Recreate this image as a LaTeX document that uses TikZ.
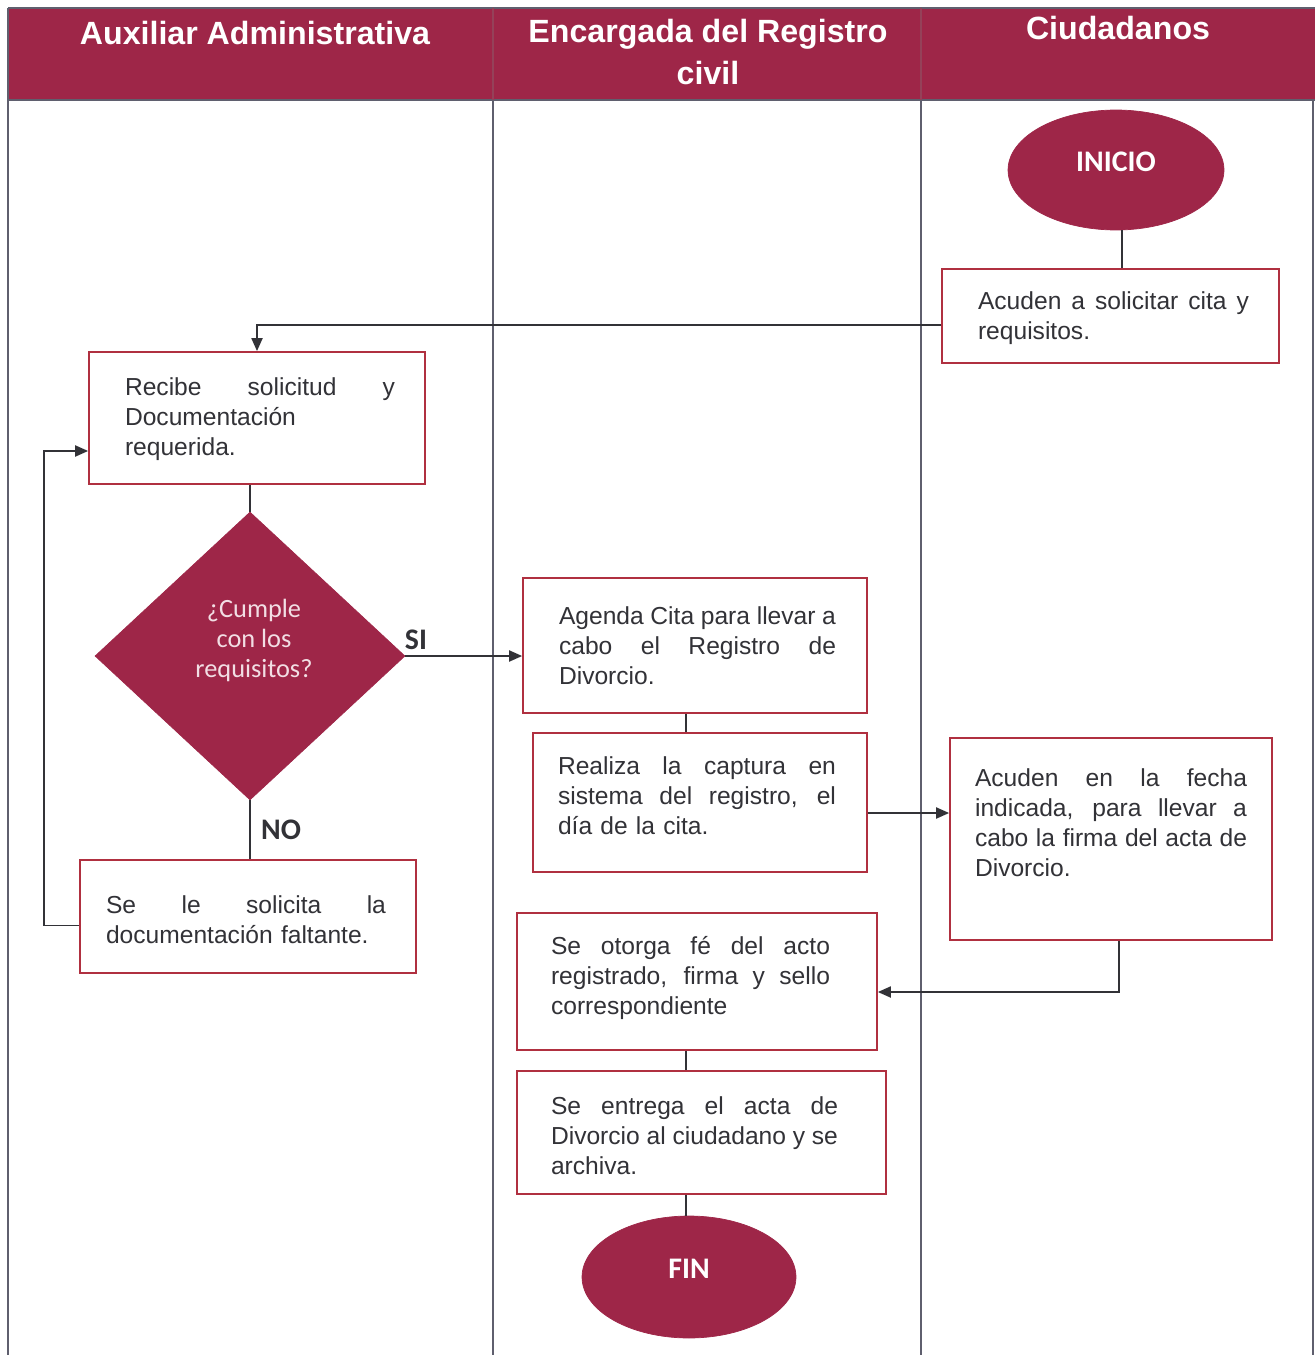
\documentclass[tikz,border=0pt]{standalone}
\usepackage{fontspec}
\setmainfont{Liberation Sans}
\newfontfamily\calibri{Carlito}
\usetikzlibrary{shapes.geometric,arrows.meta}
\definecolor{wine}{RGB}{158,38,72}
\definecolor{boxred}{RGB}{176,48,64}
\definecolor{ink}{RGB}{50,50,55}
\definecolor{lanegray}{RGB}{95,95,110}
\definecolor{qtext}{RGB}{242,222,228}
% a line stretched to the full text width: every interword space grows equally
\newcommand{\jl}[1]{\leavevmode\hbox to \hsize{\spaceskip=0.278em plus 1fil minus 0.05em\relax #1}}
\begin{document}
\begin{tikzpicture}[x=0.02cm,y=-0.02cm,
  procbox/.style={draw=boxred,line width=1pt,fill=white,rectangle,inner sep=0pt},
  txt/.style={text=ink,font=\fontsize{14}{17.07}\selectfont,align=left,inner sep=0pt,anchor=center},
  term/.style={ellipse,fill=wine,draw=wine,text=white,font=\calibri\bfseries\fontsize{17}{20}\selectfont,inner sep=0pt,text depth=0.32cm},
  decision/.style={diamond,fill=wine,draw=wine,inner sep=0pt},
  qtxt/.style={text=qtext,font=\calibri\fontsize{15}{17.07}\selectfont,align=center,inner sep=0pt},
  conn/.style={draw=ink,line width=1.1pt},
  arrow/.style={conn,-{Triangle[length=0.26cm,width=0.22cm]}},
  lanehead/.style={text=white,font=\bfseries\fontsize{18.3}{24.4}\selectfont,align=center,inner sep=0pt},
  lbl/.style={text=ink,font=\calibri\bfseries\fontsize{17}{20}\selectfont,inner sep=0pt},
  laneline/.style={draw=lanegray,line width=0.8pt}]
\useasboundingbox (0,0) rectangle (1315,1355);

% header band
\fill[wine] (8,8) rectangle (1315,100);
\draw[laneline] (8,8) -- (1315,8);
\draw[laneline] (8,100) -- (1315,100);
\draw[draw=wine!70!gray,line width=0.8pt] (493,8) -- (493,100) (921,8) -- (921,100);
\node[lanehead] (h1) at (255,33) {Auxiliar Administrativa};
\node[lanehead] (h2) at (708,52) {Encargada del Registro\\civil};
\node[lanehead] (h3) at (1118,28) {Ciudadanos};

% swimlane separators
\draw[laneline] (8,8) -- (8,1355);
\draw[laneline] (493,100) -- (493,1355);
\draw[laneline] (921,100) -- (921,1355);
\draw[laneline] (1313,100) -- (1313,1355);

% terminals and decision
\node[term,minimum width=4.32cm,minimum height=2.4cm] (inicio) at (1116,170) {INICIO};
\node[term,minimum width=4.28cm,minimum height=2.44cm] (fin) at (689,1277) {FIN};
\node[decision,minimum width=6.2cm,minimum height=5.76cm,shape aspect=1.076] (dia) at (250,656) {};
\node[qtxt] (diaq) at (254,640) {¿Cumple\\con los\\requisitos?};

% process boxes
\node[procbox,minimum width=6.74cm,minimum height=1.88cm] (acuA) at (1110.5,316) {};
\node[procbox,minimum width=6.72cm,minimum height=2.64cm] (recibe) at (257,418) {};
\node[procbox,minimum width=6.72cm,minimum height=2.26cm] (solicita) at (248,916.5) {};
\node[procbox,minimum width=6.88cm,minimum height=2.7cm] (agenda) at (695,645.5) {};
\node[procbox,minimum width=6.68cm,minimum height=2.78cm] (realiza) at (700,802.5) {};
\node[procbox,minimum width=6.44cm,minimum height=4.04cm] (acuB) at (1111,839) {};
\node[procbox,minimum width=7.2cm,minimum height=2.74cm] (otorga) at (697,981.5) {};
\node[procbox,minimum width=7.38cm,minimum height=2.46cm] (entrega) at (701.5,1132.5) {};

% box texts
\node[txt,text width=5.42cm] (t1) at (1113.5,318) {\jl{Acuden a solicitar cita y}\\requisitos.};
\node[txt,text width=5.4cm] (t2) at (260,419) {\jl{Recibe solicitud y}\\Documentación\\requerida.};
\node[txt,text width=5.6cm] (t3) at (246,920) {\jl{Se le solicita la}\\documentación faltante.};
\node[txt,text width=5.54cm] (t4) at (697.5,646) {\jl{Agenda Cita para llevar a}\\\jl{cabo el Registro de}\\Divorcio.};
\node[txt,text width=5.56cm] (t5) at (697,796) {\jl{Realiza la captura en}\\\jl{sistema del registro, el}\\día de la cita.};
\node[txt,text width=5.44cm] (t6) at (1111,823) {\jl{Acuden en la fecha}\\\jl{indicada, para llevar a}\\\jl{cabo la firma del acta de}\\Divorcio.};
\node[txt,text width=5.58cm] (t7) at (690.5,978) {\jl{Se otorga fé del acto}\\\jl{registrado, firma y sello}\\correspondiente};
\node[txt,text width=5.74cm] (t8) at (694.5,1136) {\jl{Se entrega el acta de}\\\jl{Divorcio al ciudadano y se}\\archiva.};

% decision labels
\node[lbl] (si) at (416,640) {SI};
\node[lbl] (no) at (281,830) {NO};

% connector anchors
\coordinate (spine) at (686,0);
\coordinate (aOut) at ([yshift=-0.18cm]acuA.west);
\coordinate (sOut) at ([yshift=-0.18cm]solicita.west);
\coordinate (rIn) at ([yshift=-0.66cm]recibe.west);
\coordinate (rOut) at ([yshift=-0.21cm]realiza.east);
\coordinate (bOut) at ([xshift=0.16cm]acuB.south);
\coordinate (oIn) at ([yshift=-0.21cm]otorga.east);
\coordinate (loop) at ([xshift=-0.7cm]sOut);

% connectors
\draw[conn] ([xshift=0.12cm]inicio.south) -- ([xshift=0.12cm]inicio.south |- acuA.north);
\draw[arrow] (aOut) -| (recibe.north);
\draw[conn] (dia.north |- recibe.south) -- (dia.north);
\draw[arrow] (dia.east) -- (dia.east -| agenda.west);
\draw[conn] (dia.south) -- (dia.south |- solicita.north);
\draw[arrow] (sOut) -- (loop) |- (rIn);
\draw[conn] (agenda.south -| spine) -- (realiza.north -| spine);
\draw[arrow] (rOut) -- (rOut -| acuB.west);
\draw[arrow] (bOut) |- (oIn);
\draw[conn] (otorga.south -| spine) -- (entrega.north -| spine);
\draw[conn] (entrega.south -| spine) -- (fin.north -| spine);
\end{tikzpicture}
\end{document}
